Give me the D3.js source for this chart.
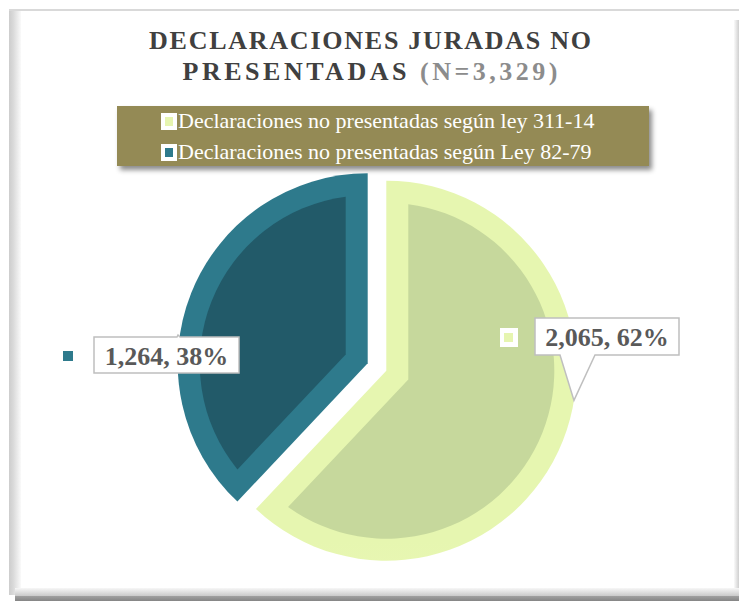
<!DOCTYPE html>
<html>
<head>
<meta charset="utf-8">
<script src="https://cdn.jsdelivr.net/npm/d3@7"></script>
<style>
  html, body { margin: 0; padding: 0; background: #fff; }
  svg { display: block; }
</style>
</head>
<body>
<svg id="chart" width="739" height="601"></svg>
<script>
// datos del grafico
const categories = ['Declaraciones no presentadas según ley 311-14', 'Declaraciones no presentadas según Ley 82-79'];
const values = [2065, 1264];
const titleLines = ['DECLARACIONES JURADAS NO', 'PRESENTADAS '];

const outerColors = ['url(#greenBand)', '#2e7a8c'];
const innerColors = ['#c6d89c', '#225a69'];
const keyColors = ['#e6f5b0', '#2e7a8c'];

let svg = d3.select('#chart'),
  width = 739,
  height = 601;

let total = d3.sum(values);
let fmt = d3.format(',');

let defs = svg.append('defs');

function grad(id, x1, y1, x2, y2, stops, user) {
  let g = defs.append('linearGradient').attr('id', id)
    .attr('x1', x1).attr('y1', y1).attr('x2', x2).attr('y2', y2);
  if (user) g.attr('gradientUnits', 'userSpaceOnUse');
  stops.forEach((s) => {
    g.append('stop').attr('offset', s[0]).attr('stop-color', s[1]);
  });
}

grad('leftBevel', 0, 0, 1, 0, [[0, '#cdcdcd'], [0.35, '#d9d9d9'], [1, '#fafafa']]);
grad('rightBevel', 0, 0, 1, 0, [[0, '#fafafa'], [1, '#cfcfcf']]);
grad('bottomBevel', 0, 0, 0, 1, [[0, '#f7f7f7'], [1, '#c9c9c9']]);
grad('bottomDark', 0, 0, 0, 1, [[0, '#a0a0a0'], [1, '#858585']]);
grad('greenBand', 0, 170, 0, 560, [[0, '#e6f6b0'], [0.5, '#f0fac0'], [1, '#fdfee8']], true);

let shadow = defs.append('filter').attr('id', 'shadow')
  .attr('x', '-5%').attr('y', '-20%').attr('width', '115%').attr('height', '160%');
shadow.append('feDropShadow').attr('dx', 3).attr('dy', 4).attr('stdDeviation', 2.5)
  .attr('flood-color', '#000').attr('flood-opacity', 0.45);

// marco biselado
svg.append('rect').attr('x', 9).attr('y', 9).attr('width', 730).attr('height', 2).attr('fill', '#d9d9d9');
svg.append('rect').attr('x', 9).attr('y', 11).attr('width', 12).attr('height', 584).attr('fill', 'url(#leftBevel)');
svg.append('rect').attr('x', 734).attr('y', 20).attr('width', 5).attr('height', 575).attr('fill', 'url(#rightBevel)');
svg.append('rect').attr('x', 15).attr('y', 588).attr('width', 724).attr('height', 8).attr('fill', 'url(#bottomBevel)');
svg.append('rect').attr('x', 15).attr('y', 596).attr('width', 724).attr('height', 5).attr('fill', 'url(#bottomDark)');

// titulo
let title = svg.append('g')
  .attr('font-family', 'Liberation Serif, DejaVu Serif, serif')
  .attr('font-weight', 'bold')
  .attr('font-size', 26)
  .attr('text-anchor', 'middle');

title.append('text')
  .attr('x', 370).attr('y', 49)
  .attr('fill', '#404040')
  .attr('textLength', 442).attr('lengthAdjust', 'spacing')
  .text(titleLines[0]);

let t2 = title.append('text')
  .attr('x', 370).attr('y', 80)
  .attr('textLength', 375).attr('lengthAdjust', 'spacing');
t2.append('tspan').attr('fill', '#404040').text(titleLines[1]);
t2.append('tspan').attr('fill', '#8c8c8c').text('(N=' + fmt(total) + ')');

// leyenda
let legend = svg.append('g');
legend.append('rect')
  .attr('x', 117).attr('y', 106).attr('width', 532).attr('height', 60)
  .attr('fill', '#948a54')
  .attr('filter', 'url(#shadow)');

categories.forEach((c, i) => {
  let y = 113 + i * 31;
  legend.append('rect').attr('x', 161).attr('y', y).attr('width', 16).attr('height', 17).attr('fill', '#fff');
  legend.append('rect').attr('x', 165).attr('y', y + 4).attr('width', 8).attr('height', 9).attr('fill', keyColors[i]);
  legend.append('text')
    .attr('x', 178).attr('y', y + 15)
    .attr('font-family', 'Liberation Serif, DejaVu Serif, serif')
    .attr('font-size', 22)
    .attr('fill', '#fff')
    .text(c);
});

// pastel
let cx = 377, cy = 367, r = 190, band = 22, explode = 10;

let pie = d3.pie().sort(null).startAngle(0).endAngle(2 * Math.PI);
let arcs = pie(values);

let outerArc = d3.arc().innerRadius(0).outerRadius(r);

//la parte interior, con el borde de ancho constante
function insetPath(d) {
  let R = r - band,
    da = Math.asin(band / R),
    mid = (d.startAngle + d.endAngle) / 2,
    half = (d.endAngle - d.startAngle) / 2,
    dist = band / Math.sin(half);
  let p = d3.path();
  p.moveTo(Math.sin(mid) * dist, -Math.cos(mid) * dist);
  let a0 = d.startAngle + da, a1 = d.endAngle - da;
  p.lineTo(Math.sin(a0) * R, -Math.cos(a0) * R);
  p.arc(0, 0, R, a0 - Math.PI / 2, a1 - Math.PI / 2, false);
  p.closePath();
  return p.toString();
}

function offset(d) {
  let mid = (d.startAngle + d.endAngle) / 2;
  return [Math.sin(mid) * explode, -Math.cos(mid) * explode];
}

let slices = svg.append('g').attr('transform', `translate(${cx},${cy})`)
  .selectAll('g').data(arcs).enter().append('g')
  .attr('transform', (d) => `translate(${offset(d)[0]},${offset(d)[1]})`);

slices.append('path').attr('d', outerArc).attr('fill', (d, i) => outerColors[i]);
slices.append('path').attr('d', insetPath).attr('fill', (d, i) => innerColors[i]);

// etiquetas de datos
let labelBoxes = [
  {x: 535, y: 318, w: 144, h: 37, key: [500, 328, 18, 19], tipAngle: 99 * Math.PI / 180},
  {x: 94, y: 337, w: 145, h: 36, key: [63, 351, 10, 10], tipAngle: null}
];

let labels = svg.append('g');
arcs.forEach((d, i) => {
  let b = labelBoxes[i];
  let pct = Math.round(d.value / total * 100);
  let txt = fmt(d.value) + ', ' + pct + '%';
  let path = d3.path();
  path.moveTo(b.x, b.y);
  if (i === 1) {
    // muesca pequena arriba
    path.lineTo(b.x + 83, b.y);
    path.lineTo(b.x + 84, b.y - 2);
    path.lineTo(b.x + 86, b.y);
  }
  path.lineTo(b.x + b.w, b.y);
  path.lineTo(b.x + b.w, b.y + b.h);
  if (b.tipAngle !== null) {
    let off = offset(d);
    let tx = cx + off[0] + Math.sin(b.tipAngle) * r,
      ty = cy + off[1] - Math.cos(b.tipAngle) * r;
    path.lineTo(b.x + 60, b.y + b.h);
    path.lineTo(tx, ty);
    path.lineTo(b.x + 25, b.y + b.h);
  }
  path.lineTo(b.x, b.y + b.h);
  path.closePath();
  labels.append('path').attr('d', path.toString())
    .attr('fill', '#fff').attr('stroke', '#bfbfbf').attr('stroke-width', 1.5);

  if (i === 0) {
    labels.append('rect').attr('x', b.key[0]).attr('y', b.key[1]).attr('width', b.key[2]).attr('height', b.key[3]).attr('fill', '#fff');
    labels.append('rect').attr('x', b.key[0] + 4).attr('y', b.key[1] + 5).attr('width', 9).attr('height', 9).attr('fill', keyColors[i]);
  } else {
    labels.append('rect').attr('x', b.key[0]).attr('y', b.key[1]).attr('width', b.key[2]).attr('height', b.key[3]).attr('fill', keyColors[i]);
  }

  labels.append('text')
    .attr('x', b.x + b.w / 2).attr('y', b.y + 28)
    .attr('text-anchor', 'middle')
    .attr('font-family', 'Liberation Serif, DejaVu Serif, serif')
    .attr('font-weight', 'bold')
    .attr('font-size', 26)
    .attr('fill', '#595959')
    .text(txt);
});
</script>
</body>
</html>
